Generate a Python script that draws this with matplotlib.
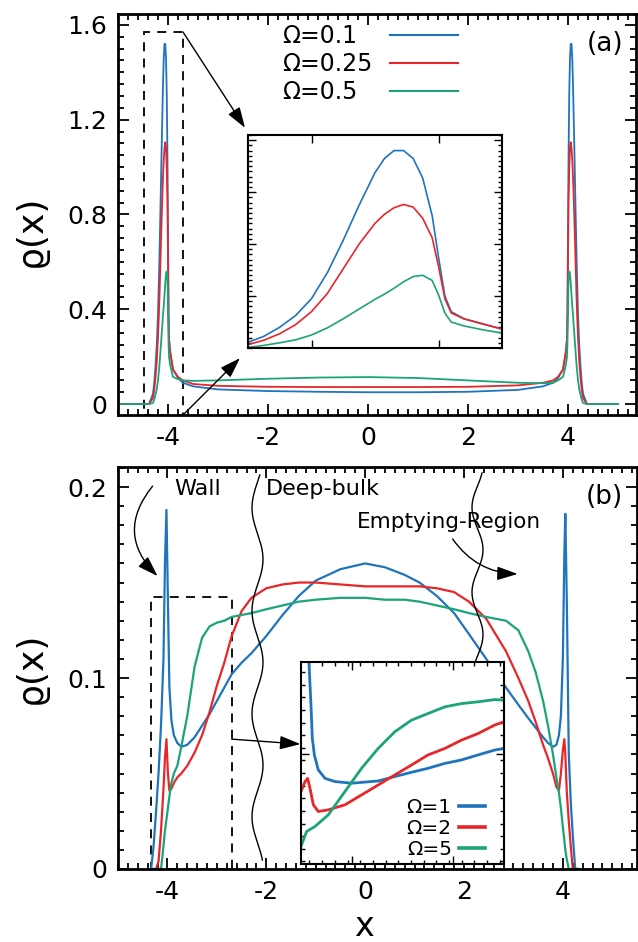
import numpy as np
import matplotlib
matplotlib.use("Agg")
import matplotlib.pyplot as plt
from matplotlib.patches import Rectangle
from matplotlib.lines import Line2D
from matplotlib.ticker import MultipleLocator, FixedLocator

plt.rcParams['font.family'] = ['DejaVu Sans']
plt.rcParams['axes.unicode_minus'] = False

# ---------------- data: panel (a) ----------------
a_labels = ["Ω=0.1", "Ω=0.25", "Ω=0.5"]
# wall region (left wall), also shown in inset (a)
a_wall_x = [-4.3, -4.275, -4.25, -4.225, -4.2, -4.175, -4.15, -4.125, -4.1, -4.085,
            -4.07, -4.055, -4.04, -4.025, -4.01, -4.0, -3.99, -3.98, -3.96, -3.93, -3.9]
a_wall_blue = [0.044, 0.09, 0.16, 0.25, 0.38, 0.58, 0.83, 1.10, 1.35, 1.46,
               1.52, 1.52, 1.46, 1.31, 1.02, 0.70, 0.40, 0.28, 0.225, 0.185, 0.146]
a_wall_red = [0.026, 0.06, 0.11, 0.18, 0.28, 0.42, 0.61, 0.80, 0.96, 1.03,
              1.08, 1.105, 1.085, 1.0, 0.85, 0.63, 0.38, 0.27, 0.225, 0.185, 0.146]
a_wall_green = [0.005, 0.02, 0.04, 0.063, 0.10, 0.155, 0.225, 0.30, 0.375, 0.415,
                0.46, 0.51, 0.55, 0.56, 0.52, 0.41, 0.27, 0.20, 0.17, 0.14, 0.115]
# bulk region
a_bulk_x = [-3.8, -3.7, -3.5, -3.0, -2.0, -1.0, 0.0, 1.0, 2.0, 3.0, 3.5, 3.7, 3.8]
a_bulk_blue = [0.11, 0.09, 0.075, 0.062, 0.055, 0.052, 0.05, 0.05, 0.052, 0.06, 0.075, 0.09, 0.11]
a_bulk_red = [0.115, 0.10, 0.085, 0.077, 0.073, 0.072, 0.072, 0.072, 0.073, 0.079, 0.09, 0.10, 0.115]
a_bulk_green = [0.105, 0.10, 0.098, 0.10, 0.107, 0.112, 0.114, 0.11, 0.10, 0.09, 0.088, 0.09, 0.10]
# outside the walls (empty)
a_out_left_x = [-5.0, -4.45, -4.38]
a_out_right_x = [4.38, 4.45, 5.0]
a_out_vals = [0.0, 0.0, 0.0]

a_xticks = [-4, -2, 0, 2, 4]
a_yticks = [0, 0.4, 0.8, 1.2, 1.6]
a_yticklabels = ["0", "0.4", "0.8", "1.2", "1.6"]

# ---------------- data: panel (b) ----------------
b_labels = ["Ω=1", "Ω=2", "Ω=5"]
b_x = [-4.33, -4.28, -4.23, -4.18, -4.13, -4.08, -4.05, -4.02, -3.99, -3.96, -3.92, -3.87,
       -3.8, -3.72, -3.6, -3.45, -3.3, -3.15, -3.0, -2.85, -2.7, -2.5, -2.3, -2.0, -1.67,
       -1.34, -1.0, -0.5, 0.0, 0.4, 0.8, 1.1, 1.45, 1.8, 2.1, 2.45, 2.85, 3.1, 3.3, 3.45,
       3.6, 3.7, 3.8, 3.87, 3.92, 3.96, 4.0, 4.03, 4.05, 4.08, 4.12, 4.16, 4.2, 4.25, 4.3]
b_blue = [0.0, 0.012, 0.03, 0.05, 0.075, 0.11, 0.16, 0.188, 0.14, 0.095, 0.078, 0.07,
          0.066, 0.064, 0.065, 0.069, 0.075, 0.081, 0.088, 0.095, 0.102, 0.108, 0.113, 0.122, 0.133,
          0.143, 0.151, 0.157, 0.160, 0.158, 0.154, 0.150, 0.143, 0.134, 0.123, 0.11, 0.095, 0.086, 0.079, 0.074,
          0.069, 0.066, 0.064, 0.065, 0.07, 0.08, 0.11, 0.165, 0.186, 0.14, 0.06, 0.035, 0.018, 0.0, 0.0]
b_red = [0.0, 0.0, 0.0, 0.004, 0.02, 0.042, 0.058, 0.068, 0.05, 0.041, 0.042, 0.045,
         0.048, 0.05, 0.054, 0.061, 0.07, 0.082, 0.096, 0.108, 0.122, 0.135, 0.142, 0.147, 0.149,
         0.150, 0.150, 0.149, 0.148, 0.148, 0.148, 0.148, 0.147, 0.145, 0.14, 0.131, 0.114, 0.10, 0.088, 0.077,
         0.065, 0.058, 0.05, 0.043, 0.041, 0.05, 0.062, 0.068, 0.06, 0.04, 0.025, 0.012, 0.0, 0.0, 0.0]
b_green = [0.0, 0.0, 0.0, 0.0, 0.0, 0.012, 0.02, 0.026, 0.032, 0.038, 0.045, 0.05,
           0.054, 0.064, 0.08, 0.106, 0.121, 0.127, 0.129, 0.13, 0.132, 0.133, 0.134, 0.136, 0.138,
           0.140, 0.141, 0.142, 0.142, 0.141, 0.141, 0.140, 0.138, 0.136, 0.134, 0.132, 0.13, 0.125, 0.114, 0.103,
           0.088, 0.075, 0.06, 0.048, 0.04, 0.032, 0.022, 0.015, 0.01, 0.005, 0.0, 0.0, 0.0, 0.0, 0.0]
b_xticks = [-4, -2, 0, 2, 4]
b_yticks = [0, 0.1, 0.2]
b_yticklabels = ["0", "0.1", "0.2"]

# inset (b): zoom on the left wall region
ib_blue_x = [-4.057, -4.053, -4.041, -4.033, -4.021, -3.998, -3.958, -3.899, -3.801, -3.644,
             -3.545, -3.447, -3.349, -3.250, -3.152, -3.053, -2.955, -2.9]
ib_blue = [0.14, 0.130, 0.1086, 0.0922, 0.0840, 0.0766, 0.0724, 0.0708, 0.0700, 0.0711,
           0.0733, 0.0754, 0.0774, 0.0798, 0.0815, 0.0840, 0.0864, 0.0872]
ib_red_x = [-4.1, -4.076, -4.061, -4.047, -4.027, -3.998, -3.939, -3.840, -3.742, -3.644,
            -3.545, -3.447, -3.349, -3.250, -3.152, -3.053, -2.955, -2.9]
ib_red = [0.0659, 0.0708, 0.0724, 0.0675, 0.0593, 0.0560, 0.0568, 0.0593, 0.0642, 0.0691,
          0.0741, 0.0790, 0.0840, 0.0872, 0.0913, 0.0946, 0.0988, 0.1004]
ib_green_x = [-4.1, -4.067, -4.017, -3.939, -3.840, -3.742, -3.644, -3.545, -3.447, -3.349,
              -3.250, -3.152, -3.053, -2.955, -2.9]
ib_green = [0.0387, 0.0461, 0.0486, 0.0543, 0.0659, 0.0774, 0.0872, 0.0955, 0.1012, 0.1045,
            0.1078, 0.1094, 0.1103, 0.1114, 0.1111]

# ---------------- style ----------------
C_BLUE = '#1f74bd'
C_RED = '#e8262a'
C_GREEN = '#1ba479'
W, H = 638, 942


def fx(px):
    return px / W


def fy(py):
    return 1 - py / H


fig = plt.figure(figsize=(W / 100, H / 100), dpi=100)

ax_a = fig.add_axes([fx(118), fy(415), 518 / W, 401 / H])
ax_b = fig.add_axes([fx(118), fy(869), 519 / W, 402 / H])


def style_main(ax):
    for s in ax.spines.values():
        s.set_linewidth(2.0)
    ax.tick_params(which='both', direction='in', top=True, right=True,
                   labelsize=18, pad=8, width=1.3)
    ax.tick_params(which='major', length=8)
    ax.tick_params(which='minor', length=4)


# ---------------- panel (a) ----------------
a_x = np.concatenate([a_out_left_x, a_wall_x, a_bulk_x, -np.array(a_wall_x[::-1]), a_out_right_x])
series_a = [(a_wall_blue, a_bulk_blue, C_BLUE), (a_wall_red, a_bulk_red, C_RED),
            (a_wall_green, a_bulk_green, C_GREEN)]
for wall, bulk, col in series_a:
    y = np.concatenate([a_out_vals, wall, bulk, wall[::-1], a_out_vals])
    ax_a.plot(a_x, y, color=col, lw=1.3)

ax_a.set_xlim(-5, 5.36)
ax_a.set_ylim(-0.046, 1.646)
ax_a.set_xticks(a_xticks)
ax_a.set_yticks(a_yticks)
ax_a.set_yticklabels(a_yticklabels)
ax_a.xaxis.set_minor_locator(MultipleLocator(0.2))
ax_a.yaxis.set_minor_locator(MultipleLocator(0.05))
style_main(ax_a)
ax_a.set_ylabel("ϱ(x)", fontsize=26)
ax_a.yaxis.set_label_coords(-0.135, 0.46)

# manual legend (a): text left-aligned, line sample right
leg_y = [35, 63, 91]
for lab, col, py in zip(a_labels, [C_BLUE, C_RED, C_GREEN], leg_y):
    ax_a.text((282 - 118) / 518, (415 - py - 1) / 401, lab, transform=ax_a.transAxes,
              fontsize=17, va='center', ha='left')
    ax_a.add_line(Line2D([(390 - 118) / 518, (458 - 118) / 518],
                         [(415 - py) / 401] * 2, transform=ax_a.transAxes,
                         color=col, lw=1.5))

ax_a.text(4.74, 1.52, "(a)", fontsize=19, ha='center', va='center')

# dashed rectangle + arrows (a)
ax_a.add_patch(Rectangle((-4.48, -0.046), 0.78, 1.616, fill=False, ls=(0, (5, 4)),
                         lw=1.3, ec='k', clip_on=False))
arrow_kw = dict(arrowstyle='-|>,head_length=0.9,head_width=0.3', color='k', lw=1.0,
                shrinkA=0, shrinkB=0, mutation_scale=14)
ax_a.annotate('', xy=(-2.46, 1.166), xytext=(-3.7, 1.57), arrowprops=arrow_kw)
ax_a.annotate('', xy=(-2.56, 0.194), xytext=(-3.7, -0.046), arrowprops=arrow_kw)

# inset (a)
ax_ia = fig.add_axes([fx(248), fy(348), 254 / W, 213 / H])
for wall, bulk, col in series_a:
    ax_ia.plot(a_wall_x, wall, color=col, lw=1.2)
ax_ia.set_xlim(-4.3, -3.9)
ax_ia.set_ylim(0, 1.64)
ax_ia.xaxis.set_major_locator(FixedLocator([-4.2, -4.0]))
ax_ia.yaxis.set_major_locator(FixedLocator([0.4, 0.8, 1.2, 1.6]))
ax_ia.yaxis.set_minor_locator(MultipleLocator(0.04))
ax_ia.tick_params(which='both', direction='in', top=True, right=True,
                  labelbottom=False, labelleft=False, width=1.0)
ax_ia.tick_params(which='major', length=6)
ax_ia.tick_params(which='minor', length=3)
for s in ax_ia.spines.values():
    s.set_linewidth(1.5)

# ---------------- panel (b) ----------------
for yv, col in zip([b_blue, b_red, b_green], [C_BLUE, C_RED, C_GREEN]):
    ax_b.plot(b_x, yv, color=col, lw=1.6)

ax_b.set_xlim(-5, 5.5)
ax_b.set_ylim(0, 0.2105)
ax_b.set_xticks(b_xticks)
ax_b.set_yticks(b_yticks)
ax_b.set_yticklabels(b_yticklabels)
ax_b.xaxis.set_minor_locator(MultipleLocator(0.2))
ax_b.yaxis.set_minor_locator(MultipleLocator(0.01))
style_main(ax_b)
ax_b.set_ylabel("ϱ(x)", fontsize=26)
ax_b.yaxis.set_label_coords(-0.135, 0.5)
ax_b.set_xlabel("x", fontsize=24)
ax_b.xaxis.set_label_coords(0.474, -0.102)

ax_b.text(4.85, 0.1948, "(b)", fontsize=19, ha='center', va='center')
ax_b.text(-3.86, 0.199, "Wall", fontsize=16, ha='left', va='center')
ax_b.text(-2.0, 0.199, "Deep-bulk", fontsize=16, ha='left', va='center')
ax_b.text(-0.17, 0.1817, "Emptying-Region", fontsize=15.5, ha='left', va='center')

ax_b.add_patch(Rectangle((-4.33, 0), 1.63, 0.1424, fill=False, ls=(0, (5, 4)),
                         lw=1.3, ec='k'))
ax_b.annotate('', xy=(-1.31, 0.0654), xytext=(-2.7, 0.068), arrowprops=arrow_kw)

curve_kw = dict(arrowstyle='-|>,head_length=0.9,head_width=0.3', color='k', lw=1.0,
                shrinkA=0, shrinkB=0, mutation_scale=14)
ax_b.annotate('', xy=(-4.2, 0.1534), xytext=(-4.30, 0.2005),
              arrowprops=dict(connectionstyle='arc3,rad=0.45', **curve_kw))
ax_b.annotate('', xy=(3.085, 0.1545), xytext=(1.77, 0.1728),
              arrowprops=dict(connectionstyle='arc3,rad=0.25', **curve_kw))

# wavy separators (decorative annotation lines), in figure pixels
t1 = np.linspace(475, 860, 400)
ax_b.add_line(Line2D(fx(257.5 - 5.5 * np.sin(2 * np.pi * (t1 - 482) / 103)), fy(t1),
                     transform=fig.transFigure, color='k', lw=1.0, clip_on=False))
t2 = np.linspace(473, 661, 250)
ax_b.add_line(Line2D(fx(477.5 - 5.5 * np.sin(2 * np.pi * (t2 - 486) / 85)), fy(t2),
                     transform=fig.transFigure, color='k', lw=1.0, clip_on=False))

# inset (b)
ax_ib = fig.add_axes([fx(301), fy(864), 203 / W, 202 / H])
ax_ib.plot(ib_blue_x, ib_blue, color=C_BLUE, lw=2.0, label=b_labels[0])
ax_ib.plot(ib_red_x, ib_red, color=C_RED, lw=2.0, label=b_labels[1])
ax_ib.plot(ib_green_x, ib_green, color=C_GREEN, lw=2.0, label=b_labels[2])
ax_ib.set_xlim(-4.1, -2.9)
ax_ib.set_ylim(0.03, 0.13)
ax_ib.xaxis.set_major_locator(FixedLocator([-3.8, -3.2]))
ax_ib.xaxis.set_minor_locator(MultipleLocator(0.075))
ax_ib.yaxis.set_major_locator(FixedLocator([0.0845]))
ax_ib.yaxis.set_minor_locator(MultipleLocator(0.00625))
ax_ib.tick_params(which='both', direction='in', top=True, right=True,
                  labelbottom=False, labelleft=False, width=1.0)
ax_ib.tick_params(which='major', length=6)
ax_ib.tick_params(which='minor', length=3)
for s in ax_ib.spines.values():
    s.set_linewidth(1.5)
leg = ax_ib.legend(loc='lower right', bbox_to_anchor=((485 - 301) / 203, (864 - 859) / 202),
                   markerfirst=False, frameon=False, fontsize=14.5, handlelength=1.3,
                   handletextpad=0.35, labelspacing=0.1, borderpad=0, borderaxespad=0)
for ln in leg.get_lines():
    ln.set_linewidth(2.6)

fig.savefig("out.png", dpi=100)
